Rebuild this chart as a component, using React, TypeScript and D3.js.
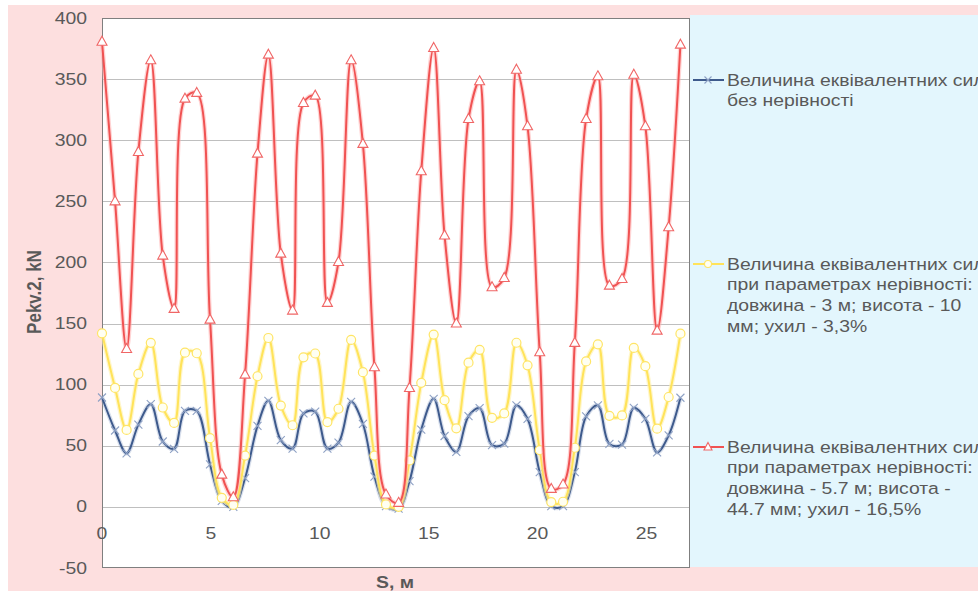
import React from "react";
import * as d3 from "d3";

const S = [0, 0.6, 1.13, 1.67, 2.24, 2.79, 3.31, 3.81, 4.35, 4.96, 5.5, 6.03, 6.57, 7.14, 7.64, 8.21, 8.75, 9.25, 9.79, 10.35, 10.86, 11.44, 11.98, 12.51, 13.04, 13.62, 14.12, 14.66, 15.23, 15.73, 16.27, 16.83, 17.34, 17.91, 18.47, 19.03, 19.54, 20.1, 20.63, 21.17, 21.71, 22.23, 22.77, 23.3, 23.88, 24.42, 24.95, 25.49, 26.02, 26.56];

const noBump = [89.5, 62.5, 43.8, 67.3, 84, 53.5, 47.5, 78.6, 78.6, 34.8, 5, 0, 23.5, 66.3, 86.8, 54.6, 47.7, 76.5, 78, 47.7, 52.5, 86, 68, 24.8, 0.7, -1.5, 21, 63.3, 88.4, 58, 45, 74.3, 80.8, 50.5, 51.7, 83, 72.1, 28.4, 0.6, 0.6, 28.4, 74, 83, 51.5, 51, 81, 72, 44.6, 58.5, 89.3];

const bump3m = [142, 97.3, 63, 108.8, 134.2, 81.3, 68.7, 126.2, 125.7, 56.2, 7.4, 1.6, 42, 106.9, 138.2, 82.9, 66.8, 122.4, 125.5, 69.4, 80.3, 136.6, 110.2, 42, 2, 0, 38, 101.5, 141, 87.3, 64.3, 118, 128.5, 72.9, 76.5, 134.3, 115.8, 46.5, 3.9, 4.2, 48.4, 119, 133, 74.5, 74.8, 130.1, 115.1, 64, 89.9, 141.7];

const bump57m = [380.6, 250, 129.2, 290.4, 365.4, 205.6, 162, 334, 338.7, 153.2, 26.4, 7.9, 108.2, 289, 370, 207.2, 160.6, 330.5, 336.5, 166.9, 200.4, 365.4, 297, 114.2, 10.1, 3.3, 97.3, 274.6, 375.5, 222, 150, 317.4, 348.2, 179.7, 187.3, 357.7, 311.4, 126.5, 14.7, 18.3, 134.2, 317.4, 352.3, 181, 186.5, 353.6, 311.4, 144.2, 228.8, 378.2];

const yTicks = [-50, 0, 50, 100, 150, 200, 250, 300, 350, 400];
const xTicks = [0, 5, 10, 15, 20, 25];

const legend1 = ["Величина еквівалентних сил", "без нерівності"];
const legend2 = ["Величина еквівалентних сил", "при параметрах нерівності:", "довжина - 3 м; висота - 10", "мм; ухил - 3,3%"];
const legend3 = ["Величина еквівалентних сил", "при параметрах нерівності:", "довжина - 5.7 м; висота -", "44.7 мм; ухил - 16,5%"];

const FONT = "'Liberation Sans', Arial, sans-serif";
const TXT = "#595959";
const SX = 1.14;

const W = 978, H = 593;
const L = 102, R = 690, T = 18, B = 568;

export default function App() {
  const x = d3.scaleLinear().domain([0, 27]).range([L, R]);
  const y = d3.scaleLinear().domain([-50, 400]).range([B, T]);
  const line = d3
    .line<number>()
    .x((_, i) => x(S[i]))
    .y((d) => y(d))
    .curve(d3.curveCatmullRom.alpha(0.5));

  const blue = "#3E5A8C";
  const yellow = "#FFE35A";
  const red = "#F05252";

  const tri = "M0,-5.5L5,3.5L-5,3.5Z";

  const legendBlock = (lines: string[], y0: number) =>
    lines.map((t, i) => (
      <text
        key={i}
        transform={`translate(727,${y0 + i * 20.8}) scale(${SX},1)`}
        fontFamily={FONT}
        fontSize={17}
        fill={TXT}
        dominantBaseline="central"
      >
        {t}
      </text>
    ));

  return (
    <svg width={W} height={H} style={{ position: "absolute", left: 0, top: 0 }}>
      <rect x={0} y={0} width={W} height={H} fill="#ffffff" />
      <rect x={8} y={5} width={W - 8} height={586} fill="#FDDFDF" />
      <rect x={L} y={T} width={R - L} height={B - T} fill="#ffffff" />
      <rect x={R} y={15} width={W - R} height={552} fill="#E3F6FD" />

      {yTicks
        .filter((v) => v > -50 && v < 400)
        .map((v) => (
          <line key={v} x1={L} x2={R} y1={Math.round(y(v)) + 0.5} y2={Math.round(y(v)) + 0.5} stroke="#BFBFBF" strokeWidth={1} />
        ))}
      <rect x={L + 0.5} y={T + 0.5} width={R - L - 1} height={B - T - 1} fill="none" stroke="#7F7F7F" strokeWidth={1} />

      {yTicks.map((v) => (
        <text
          key={v}
          transform={`translate(87,${y(v)}) scale(${SX},1)`}
          textAnchor="end"
          dominantBaseline="central"
          fontFamily={FONT}
          fontSize={17}
          fill={TXT}
        >
          {v}
        </text>
      ))}
      {xTicks.map((v) => (
        <text
          key={v}
          transform={`translate(${x(v)},533) scale(${SX},1)`}
          textAnchor="middle"
          dominantBaseline="central"
          fontFamily={FONT}
          fontSize={17}
          fill={TXT}
        >
          {v}
        </text>
      ))}

      <text
        transform={`translate(35,292) rotate(-90) scale(1,${SX})`}
        textAnchor="middle"
        dominantBaseline="central"
        fontFamily={FONT}
        fontSize={17}
        fontWeight="bold"
        fill={TXT}
      >
        Pekv.2, kN
      </text>
      <text
        transform={`translate(395,582) scale(${SX},1)`}
        textAnchor="middle"
        dominantBaseline="central"
        fontFamily={FONT}
        fontSize={17}
        fontWeight="bold"
        fill={TXT}
      >
        S, м
      </text>

      {/* series: blue */}
      <path d={line(noBump) || ""} fill="none" stroke="#8FA3C8" strokeOpacity={0.35} strokeWidth={4.5} />
      <path d={line(noBump) || ""} fill="none" stroke={blue} strokeWidth={2} />
      {noBump.map((v, i) => (
        <g key={i} transform={`translate(${x(S[i])},${y(v)})`}>
          <path d="M-4,-4L4,4M-4,4L4,-4" stroke="#8EA1C4" strokeWidth={1.1} />
        </g>
      ))}

      {/* series: yellow */}
      <path d={line(bump3m) || ""} fill="none" stroke="#FFF0A8" strokeOpacity={0.6} strokeWidth={4.5} />
      <path d={line(bump3m) || ""} fill="none" stroke={yellow} strokeWidth={2} />
      {bump3m.map((v, i) => (
        <circle key={i} cx={x(S[i])} cy={y(v)} r={4.5} fill="#FFFFF2" stroke="#FFE566" strokeWidth={1.2} />
      ))}

      {/* series: red */}
      <path d={line(bump57m) || ""} fill="none" stroke="#FFB0B0" strokeOpacity={0.55} strokeWidth={4.5} />
      <path d={line(bump57m) || ""} fill="none" stroke={red} strokeWidth={2} />
      {bump57m.map((v, i) => (
        <path key={i} d={tri} transform={`translate(${x(S[i])},${y(v)})`} fill="#ffffff" stroke="#F06666" strokeWidth={1.1} />
      ))}

      {/* legend */}
      <line x1={693} x2={724} y1={80} y2={80} stroke={blue} strokeWidth={2} />
      <path d="M-3.5,-3.5L3.5,3.5M-3.5,3.5L3.5,-3.5" transform="translate(708,80)" stroke="#8EA1C4" strokeWidth={1.1} />
      {legendBlock(legend1, 80)}

      <line x1={693} x2={724} y1={264} y2={264} stroke={yellow} strokeWidth={2} />
      <circle cx={708} cy={264} r={3.5} fill="#FFFFF2" stroke="#FFE566" strokeWidth={1.1} />
      {legendBlock(legend2, 264)}

      <line x1={693} x2={724} y1={447} y2={447} stroke={red} strokeWidth={2} />
      <path d="M0,-4.5L4,3L-4,3Z" transform="translate(708,447)" fill="#ffffff" stroke="#F06666" strokeWidth={1.1} />
      {legendBlock(legend3, 447)}
    </svg>
  );
}
